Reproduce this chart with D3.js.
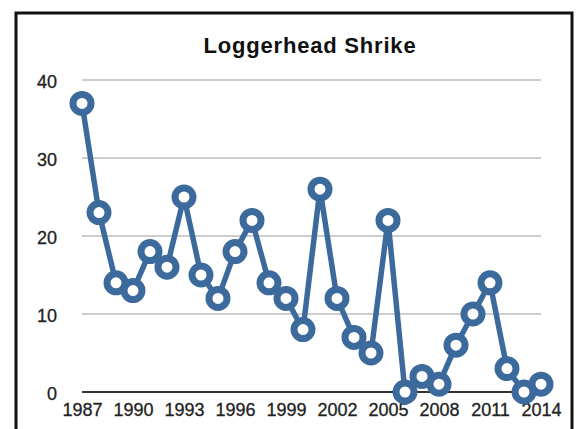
<!DOCTYPE html>
<html>
<head>
<meta charset="utf-8">
<style>
  html, body { margin: 0; padding: 0; background: #fff; }
  svg { display: block; font-family: "Liberation Sans", Arial, Helvetica, sans-serif; }
</style>
</head>
<body>
<svg id="chart"></svg>

<script src="https://cdnjs.cloudflare.com/ajax/libs/d3/7.8.5/d3.min.js"></script>
<script>
  // datos
  const chartTitle = "Loggerhead Shrike";
  const years = [1987, 1988, 1989, 1990, 1991, 1992, 1993, 1994, 1995, 1996,
                 1997, 1998, 1999, 2000, 2001, 2002, 2003, 2004, 2005, 2006,
                 2007, 2008, 2009, 2010, 2011, 2012, 2013, 2014];
  const counts = [37, 23, 14, 13, 18, 16, 25, 15, 12, 18,
                  22, 14, 12, 8, 26, 12, 7, 5, 22, 0,
                  2, 1, 6, 10, 14, 3, 0, 1];
  const yTicks = [0, 10, 20, 30, 40];
  const xTickYears = [1987, 1990, 1993, 1996, 1999, 2002, 2005, 2008, 2011, 2014];

  const W = 579, H = 429;
  const blue = "#3c6a9c";

  const svg = d3.select("#chart").attr("width", W).attr("height", H);

  // marco negro (sin borde inferior visible)
  svg.append("rect")
      .attr("x", 16).attr("y", 13)
      .attr("width", 556).attr("height", 440)
      .attr("fill", "#fff")
      .attr("stroke", "#111")
      .attr("stroke-width", 3);

  const x = d3.scalePoint().domain(years).range([82, 541]);
  const y = d3.scaleLinear().domain([0, 40]).range([392, 80]);

  // líneas de la cuadrícula
  svg.append("g")
      .selectAll("line")
      .data(yTicks.filter(d => d > 0))
      .join("line")
      .attr("x1", 82).attr("x2", 541)
      .attr("y1", d => y(d)).attr("y2", d => y(d))
      .attr("stroke", "#bdbdbd")
      .attr("stroke-width", 1.5);

  // línea de cero
  svg.append("line")
      .attr("x1", 82).attr("x2", 541)
      .attr("y1", y(0)).attr("y2", y(0))
      .attr("stroke", "#333")
      .attr("stroke-width", 2);

  // eje Y
  const yAxis = svg.append("g")
      .attr("transform", "translate(82,0)")
      .call(d3.axisLeft(y).tickValues(yTicks).tickSize(0).tickPadding(25));
  yAxis.select(".domain").remove();
  yAxis.selectAll("text")
      .attr("font-size", 18)
      .attr("font-family", "Liberation Sans, Arial, sans-serif")
      .attr("fill", "#222")
      .attr("stroke", "#222").attr("stroke-width", 0.3)
      .attr("dy", "0.42em");

  // eje X
  const xAxis = svg.append("g")
      .attr("transform", `translate(0,${y(0)})`)
      .call(d3.axisBottom(x).tickValues(xTickYears).tickSize(0).tickPadding(11));
  xAxis.select(".domain").remove();
  xAxis.selectAll("text")
      .attr("font-size", 18)
      .attr("font-family", "Liberation Sans, Arial, sans-serif")
      .attr("fill", "#222")
      .attr("stroke", "#222").attr("stroke-width", 0.3);

  // título
  svg.append("text")
      .attr("x", 310).attr("y", 53)
      .attr("text-anchor", "middle")
      .attr("font-size", 22)
      .attr("font-weight", "bold")
      .attr("letter-spacing", 0.8)
      .attr("fill", "#111")
      .text(chartTitle);

  const data = years.map((yr, i) => ({ year: yr, value: counts[i] }));

  const line = d3.line()
      .x(d => x(d.year))
      .y(d => y(d.value));

  svg.append("path")
      .datum(data)
      .attr("fill", "none")
      .attr("stroke", blue)
      .attr("stroke-width", 5.5)
      .attr("stroke-linejoin", "round")
      .attr("d", line);

  svg.append("g")
      .selectAll("circle")
      .data(data)
      .join("circle")
      .attr("cx", d => x(d.year))
      .attr("cy", d => y(d.value))
      .attr("r", 9)
      .attr("fill", "#fff")
      .attr("stroke", blue)
      .attr("stroke-width", 7);
</script>
</body>
</html>
